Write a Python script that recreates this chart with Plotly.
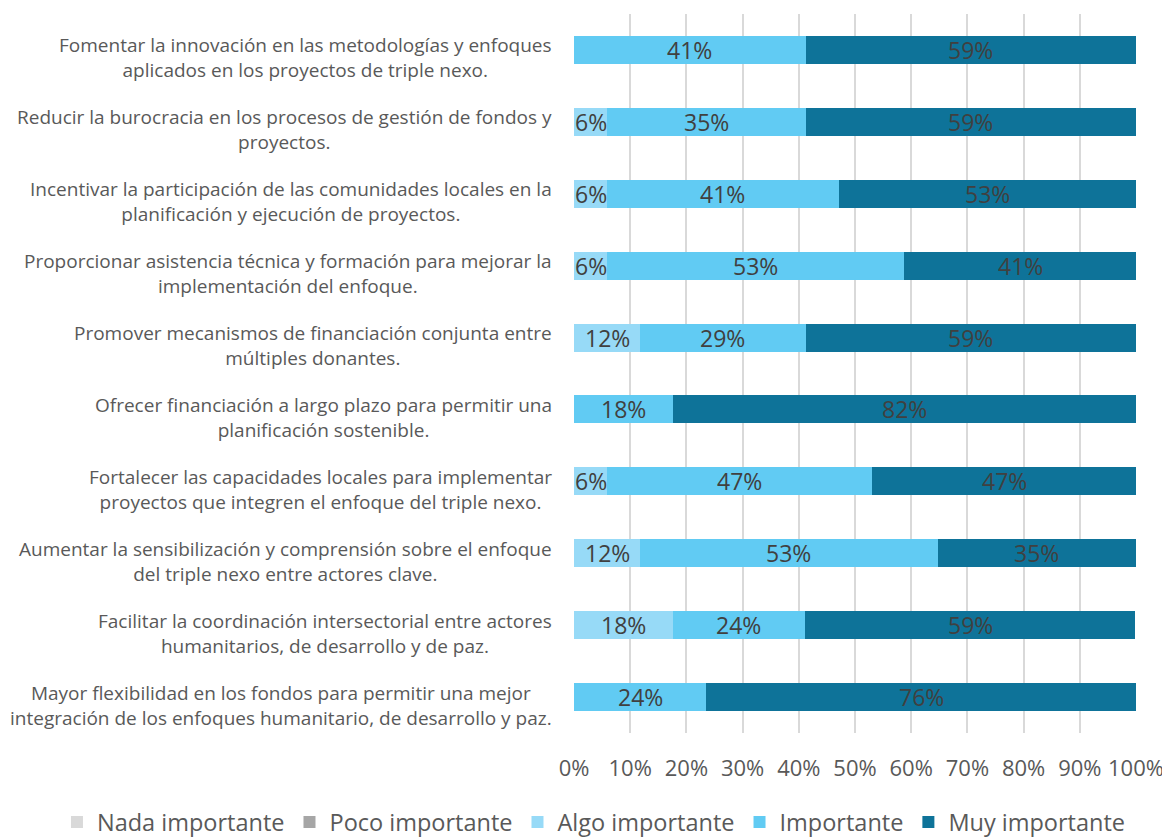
import plotly.graph_objects as go

categories = [
    "Fomentar la innovación en las metodologías y enfoques<br>aplicados en los proyectos de triple nexo.",
    "Reducir la burocracia en los procesos de gestión de fondos y<br>proyectos.",
    "Incentivar la participación de las comunidades locales en la<br>planificación y ejecución de proyectos.",
    "Proporcionar asistencia técnica y formación para mejorar la<br>implementación del enfoque.",
    "Promover mecanismos de financiación conjunta entre<br>múltiples donantes.",
    "Ofrecer financiación a largo plazo para permitir una<br>planificación sostenible.",
    "Fortalecer las capacidades locales para implementar<br>proyectos que integren el enfoque del triple nexo.",
    "Aumentar la sensibilización y comprensión sobre el enfoque<br>del triple nexo entre actores clave.",
    "Facilitar la coordinación intersectorial entre actores<br>humanitarios, de desarrollo y de paz.",
    "Mayor flexibilidad en los fondos para permitir una mejor<br>integración de los enfoques humanitario, de desarrollo y paz.",
]

nada = [0, 0, 0, 0, 0, 0, 0, 0, 0, 0]
poco = [0, 0, 0, 0, 0, 0, 0, 0, 0, 0]
algo = [0, 5.9, 5.9, 5.9, 11.8, 0, 5.9, 11.8, 17.6, 0]
importante = [41.2, 35.3, 41.2, 52.9, 29.4, 17.6, 47.1, 52.9, 23.5, 23.5]
muy = [58.8, 58.8, 52.9, 41.2, 58.8, 82.4, 47.1, 35.3, 58.8, 76.5]

series = [
    ("Nada importante", nada, "#d9d9d9"),
    ("Poco importante", poco, "#a6a6a6"),
    ("Algo importante", algo, "#97daf7"),
    ("Importante", importante, "#61cbf3"),
    ("Muy importante", muy, "#0e7399"),
]

ticks = [0, 10, 20, 30, 40, 50, 60, 70, 80, 90, 100]
tick_text = [f"{t}%" for t in ticks]

FONT = "Open Sans"
rows = list(range(len(categories)))

fig = go.Figure()
base = [0.0] * len(categories)
for name, vals, color in series:
    fig.add_trace(go.Bar(
        name=name,
        y=rows,
        x=vals,
        orientation="h",
        marker=dict(color=color, line=dict(width=0)),
        textposition="none",
        hoverinfo="skip",
    ))
    for i, v in enumerate(vals):
        if v > 0:
            fig.add_annotation(
                x=base[i] + v / 2, xref="x", y=i, yref="y",
                text=f"{v:.0f}%", showarrow=False,
                xanchor="center", yanchor="middle",
                font=dict(family=FONT, size=23, color="#404040"),
            )
        base[i] += v

for i, c in enumerate(categories):
    fig.add_annotation(
        x=-0.0355, xref="paper", y=i, yref="y",
        text=c, showarrow=False, xanchor="right", yanchor="middle",
        align="center", yshift=-8,
        font=dict(family=FONT, size=19, color="#595959"),
    )

fig.update_layout(
    barmode="stack",
    bargap=0.61,
    width=1162, height=829,
    margin=dict(l=566, r=34, t=6, b=104, autoexpand=False),
    paper_bgcolor="white",
    plot_bgcolor="white",
    xaxis=dict(
        range=[0, 100],
        tickvals=ticks, ticktext=tick_text,
        showgrid=True, gridcolor="#d9d9d9", gridwidth=1.5,
        zeroline=False, showline=False,
        tickfont=dict(family=FONT, size=22, color="#595959"),
        ticklabelstandoff=20,
        fixedrange=True,
    ),
    yaxis=dict(
        range=[len(categories) - 0.5, -0.5],
        showticklabels=False, showgrid=False, zeroline=False,
        fixedrange=True,
    ),
    legend=dict(
        orientation="h", xref="paper", x=-0.92, xanchor="left",
        yref="paper", y=-0.124, yanchor="middle",
        font=dict(family=FONT, size=23.5, color="#595959"),
        traceorder="normal",
    ),
    showlegend=True,
)

fig.write_html("out.html")
